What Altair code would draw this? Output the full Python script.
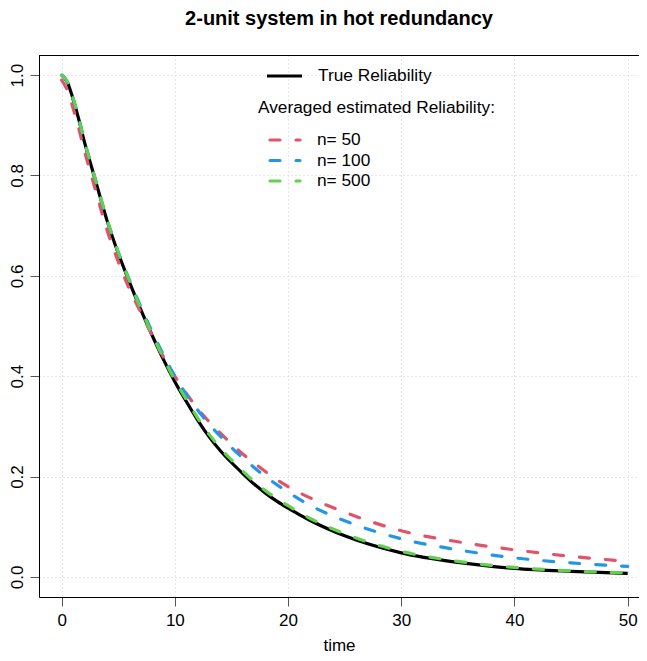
import altair as alt
import pandas as pd

# ---- data ----
t = [0, 0.5, 1, 1.5, 2, 2.5, 3, 4, 5, 6, 7, 8, 9, 10, 11, 12, 13, 14, 15, 16,
     17, 18, 19, 20, 22, 25, 30, 35, 40, 45, 50]
true_rel = [1.000, 0.986, 0.953, 0.913, 0.868, 0.828, 0.789, 0.711, 0.645, 0.587,
            0.532, 0.481, 0.433, 0.389, 0.350, 0.313, 0.280, 0.252, 0.228, 0.206,
            0.185, 0.167, 0.151, 0.137, 0.112, 0.082, 0.048, 0.029, 0.017, 0.011, 0.007]
n50 = [0.990, 0.970, 0.935, 0.895, 0.850, 0.810, 0.770, 0.692, 0.628, 0.573,
       0.527, 0.481, 0.438, 0.400, 0.366, 0.336, 0.310, 0.287, 0.265, 0.245,
       0.227, 0.210, 0.194, 0.180, 0.157, 0.129, 0.092, 0.070, 0.054, 0.041, 0.031]
n100 = [1.000, 0.986, 0.954, 0.915, 0.869, 0.829, 0.790, 0.712, 0.647, 0.591,
        0.538, 0.488, 0.442, 0.400, 0.364, 0.333, 0.305, 0.281, 0.258, 0.237,
        0.218, 0.200, 0.184, 0.169, 0.142, 0.112, 0.076, 0.054, 0.038, 0.028, 0.021]
n500 = [1.000, 0.987, 0.955, 0.915, 0.870, 0.830, 0.791, 0.713, 0.647, 0.589,
        0.534, 0.483, 0.436, 0.392, 0.354, 0.317, 0.285, 0.257, 0.233, 0.211,
        0.190, 0.172, 0.156, 0.142, 0.116, 0.086, 0.051, 0.031, 0.019, 0.012, 0.008]

est_labels = ["n= 50", "n= 100", "n= 500"]
est_colors = ["#DF536B", "#2297E6", "#61D04F"]
x_ticks = [0, 10, 20, 30, 40, 50]
y_ticks = [0.0, 0.2, 0.4, 0.6, 0.8, 1.0]

FONT = "Liberation Sans"
W, H = 600, 542

true_df = pd.DataFrame({"time": t, "R": true_rel})
est_df = pd.concat([
    pd.DataFrame({"time": t, "R": vals, "series": lab, "order": i})
    for i, (lab, vals) in enumerate(zip(est_labels, [n50, n100, n500]))
])

xscale = alt.Scale(domain=[-2, 51.0], nice=False, zero=False)
yscale = alt.Scale(domain=[-0.04, 1.04], nice=False, zero=False)

xaxis = alt.Axis(values=x_ticks, title="time", grid=True, gridDash=[1, 3],
                 gridColor="#cfcfcf", tickSize=9, tickColor="#555555",
                 domainColor="black", labelFontSize=17, labelColor="black",
                 labelPadding=6, titleFontSize=17, titleFontWeight="normal",
                 titleColor="black", titlePadding=9, labelFont=FONT, titleFont=FONT)
yaxis = alt.Axis(values=y_ticks, format=".1f", title=None, grid=True, gridDash=[1, 3],
                 gridColor="#cfcfcf", tickSize=9, tickColor="#555555",
                 domainColor="black", labelFontSize=17, labelColor="black",
                 labelAngle=270, labelAlign="center", labelBaseline="bottom",
                 labelPadding=4, labelFont=FONT)

true_line = alt.Chart(true_df).mark_line(color="black", strokeWidth=3.2,
                                          interpolate="monotone").encode(
    x=alt.X("time:Q", scale=xscale, axis=xaxis),
    y=alt.Y("R:Q", scale=yscale, axis=yaxis),
)

est_lines = alt.Chart(est_df).mark_line(strokeWidth=3.2, strokeDash=[10, 16],
                                        strokeCap="round",
                                        interpolate="monotone").encode(
    x=alt.X("time:Q", scale=xscale),
    y=alt.Y("R:Q", scale=yscale),
    color=alt.Color("series:N", scale=alt.Scale(domain=est_labels, range=est_colors),
                    legend=None),
    order="order:Q",
)

top_border = alt.Chart(pd.DataFrame({"k": [0]})).mark_rule(color="black", strokeWidth=1).encode(
    x=alt.value(0), x2=alt.value(W), y=alt.value(0.5))

# ---- manual legend ----
LFS = 17.3
legend_layers = []
legend_layers.append(
    alt.Chart(pd.DataFrame({"k": [0]})).mark_rule(color="black", strokeWidth=3.2).encode(
        x=alt.value(228), x2=alt.value(263), y=alt.value(21)))
legend_layers.append(
    alt.Chart(pd.DataFrame({"label": ["True Reliability"]})).mark_text(
        align="left", baseline="middle", fontSize=LFS, font=FONT, color="black").encode(
        x=alt.value(279), y=alt.value(21), text="label:N"))
legend_layers.append(
    alt.Chart(pd.DataFrame({"label": ["Averaged estimated Reliability:"]})).mark_text(
        align="left", baseline="middle", fontSize=LFS, font=FONT, color="black").encode(
        x=alt.value(219), y=alt.value(53), text="label:N"))
for i, (lab, col) in enumerate(zip(est_labels, est_colors)):
    yy = 85 + i * 20.5
    legend_layers.append(
        alt.Chart(pd.DataFrame({"k": [0]})).mark_rule(
            color=col, strokeWidth=3.2, strokeDash=[10, 16], strokeCap="round",
            strokeDashOffset=-1.5).encode(
            x=alt.value(229.5), x2=alt.value(261), y=alt.value(yy)))
    legend_layers.append(
        alt.Chart(pd.DataFrame({"label": [lab]})).mark_text(
            align="left", baseline="middle", fontSize=LFS, font=FONT, color="black").encode(
            x=alt.value(278), y=alt.value(yy), text="label:N"))

chart = alt.layer(true_line, est_lines, top_border, *legend_layers).properties(
    width=W, height=H,
    title=alt.TitleParams("2-unit system in hot redundancy", fontSize=20,
                          fontWeight="bold", font=FONT, anchor="middle",
                          baseline="alphabetic", offset=10, color="black"),
    autosize="none",
    padding={"left": 31, "top": 47, "right": 0, "bottom": 56},
).configure_view(strokeWidth=0).configure(font=FONT)

chart.save("out.html", embed_options={"renderer": "svg", "actions": False})
